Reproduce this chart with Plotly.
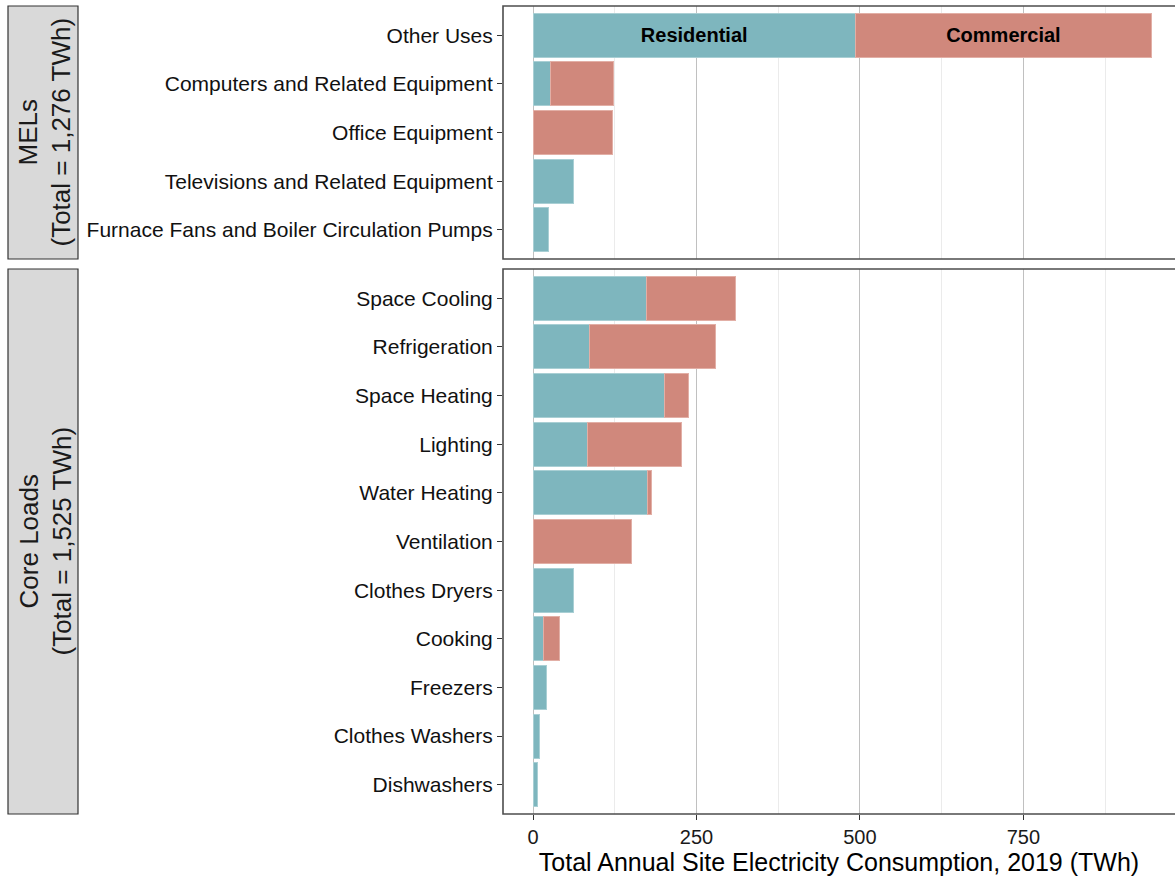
import plotly.graph_objects as go

# ---------------- data ----------------
mel_categories = ["Other Uses", "Computers and Related Equipment", "Office Equipment",
                  "Televisions and Related Equipment", "Furnace Fans and Boiler Circulation Pumps"]
mel_residential = [493, 26, 0, 62, 24]
mel_commercial = [453, 97, 121, 0, 0]

core_categories = ["Space Cooling", "Refrigeration", "Space Heating", "Lighting", "Water Heating",
                   "Ventilation", "Clothes Dryers", "Cooking", "Freezers", "Clothes Washers", "Dishwashers"]
core_residential = [173, 87, 201, 84, 175, 0, 62, 16, 20, 10, 7]
core_commercial = [137, 192, 37, 143, 6, 150, 0, 25, 0, 0, 0]

x_ticks = [0, 250, 500, 750]
mel_strip = "MELs<br>(Total = 1,276 TWh)"
core_strip = "Core Loads<br>(Total = 1,525 TWh)"
sector_labels = ["Residential", "Commercial"]

# ---------------- style ----------------
RES_COLOR = "#7EB6BE"
COM_COLOR = "#D0887C"
FONT = "Liberation Sans, Arial, sans-serif"
W, H = 1175, 877
ML, MR, MT, MB = 503, 0, 6, 63
PW, PH = W - ML - MR, H - MT - MB


def px_x(px):
    return (px - ML) / PW


def px_y(py):
    return (H - MB - py) / PH


def nz(vals):
    return [v if v else None for v in vals]


top_dom = [px_y(259), 1.0]
bot_dom = [0.0, px_y(269)]

fig = go.Figure()

mel_text_res = [sector_labels[0] if c == "Other Uses" else "" for c in mel_categories]
mel_text_com = [sector_labels[1] if c == "Other Uses" else "" for c in mel_categories]

bar_common = dict(orientation="h", showlegend=False, hoverinfo="x+y",
                  textposition="inside", insidetextanchor="middle",
                  textfont=dict(family=FONT, size=20, color="black", weight="bold"),
                  constraintext="none")

fig.add_trace(go.Bar(y=mel_categories, x=nz(mel_residential), text=mel_text_res,
                     marker=dict(color=RES_COLOR, line=dict(color="#A9CFD4", width=1)),
                     xaxis="x2", yaxis="y2", **bar_common))
fig.add_trace(go.Bar(y=mel_categories, x=nz(mel_commercial), text=mel_text_com,
                     marker=dict(color=COM_COLOR, line=dict(color="#E2AFA6", width=1)),
                     xaxis="x2", yaxis="y2", **bar_common))
fig.add_trace(go.Bar(y=core_categories, x=nz(core_residential),
                     marker=dict(color=RES_COLOR, line=dict(color="#A9CFD4", width=1)),
                     xaxis="x", yaxis="y", **bar_common))
fig.add_trace(go.Bar(y=core_categories, x=nz(core_commercial),
                     marker=dict(color=COM_COLOR, line=dict(color="#E2AFA6", width=1)),
                     xaxis="x", yaxis="y", **bar_common))

xr = [-46, 982]
x_common = dict(range=xr, tickvals=x_ticks, showgrid=True, gridcolor="#C0C0C0", gridwidth=1,
                minor=dict(dtick=125, tick0=125, showgrid=True, gridcolor="#EBEBEB", gridwidth=1),
                zeroline=False, showline=False, fixedrange=True)

fig.update_layout(
    width=W, height=H,
    margin=dict(l=ML, r=MR, t=MT, b=MB),
    paper_bgcolor="white", plot_bgcolor="white",
    barmode="stack", bargap=0.1,
    font=dict(family=FONT, color="black"),
    xaxis=dict(domain=[0, 1], anchor="y", ticks="outside", ticklen=5, tickcolor="#333333",
               tickfont=dict(size=20, color="#1a1a1a"),
               title=dict(text="Total Annual Site Electricity Consumption, 2019 (TWh)",
                          font=dict(size=25, color="black"), standoff=4),
               **x_common),
    xaxis2=dict(domain=[0, 1], anchor="y2", matches="x", showticklabels=False, ticks="",
                **x_common),
    yaxis=dict(domain=bot_dom, anchor="x", type="category",
               categoryorder="array", categoryarray=core_categories[::-1],
               range=[-0.6, len(core_categories) - 0.4],
               ticks="outside", ticklen=5, tickcolor="#333333",
               tickfont=dict(size=21, color="#111111"), showgrid=False, fixedrange=True),
    yaxis2=dict(domain=top_dom, anchor="x2", type="category",
                categoryorder="array", categoryarray=mel_categories[::-1],
                range=[-0.6, len(mel_categories) - 0.4],
                ticks="outside", ticklen=5, tickcolor="#333333",
                tickfont=dict(size=21, color="#111111"), showgrid=False, fixedrange=True),
)

shapes = []
# panel borders (right side runs off page)
for y0, y1 in [(top_dom[0], top_dom[1]), (bot_dom[0], bot_dom[1])]:
    shapes.append(dict(type="rect", xref="paper", yref="paper", x0=0, x1=1.05, y0=y0, y1=y1,
                       line=dict(color="#4D4D4D", width=1.6), fillcolor="rgba(0,0,0,0)", layer="above"))
# strips
sx0, sx1 = px_x(8), px_x(78)
for y0, y1 in [(top_dom[0], top_dom[1]), (bot_dom[0], bot_dom[1])]:
    shapes.append(dict(type="rect", xref="paper", yref="paper", x0=sx0, x1=sx1, y0=y0, y1=y1,
                       line=dict(color="#333333", width=1.2), fillcolor="#D9D9D9", layer="below"))
fig.update_layout(shapes=shapes)

annotations = []
for txt, (y0, y1) in [(mel_strip, top_dom), (core_strip, bot_dom)]:
    annotations.append(dict(text=txt, xref="paper", yref="paper", x=px_x(45), y=(y0 + y1) / 2,
                            showarrow=False, textangle=-90, xanchor="center", yanchor="middle",
                            font=dict(family=FONT, size=26, color="#1a1a1a"), align="center"))
fig.update_layout(annotations=annotations)

fig.write_html("out.html")
